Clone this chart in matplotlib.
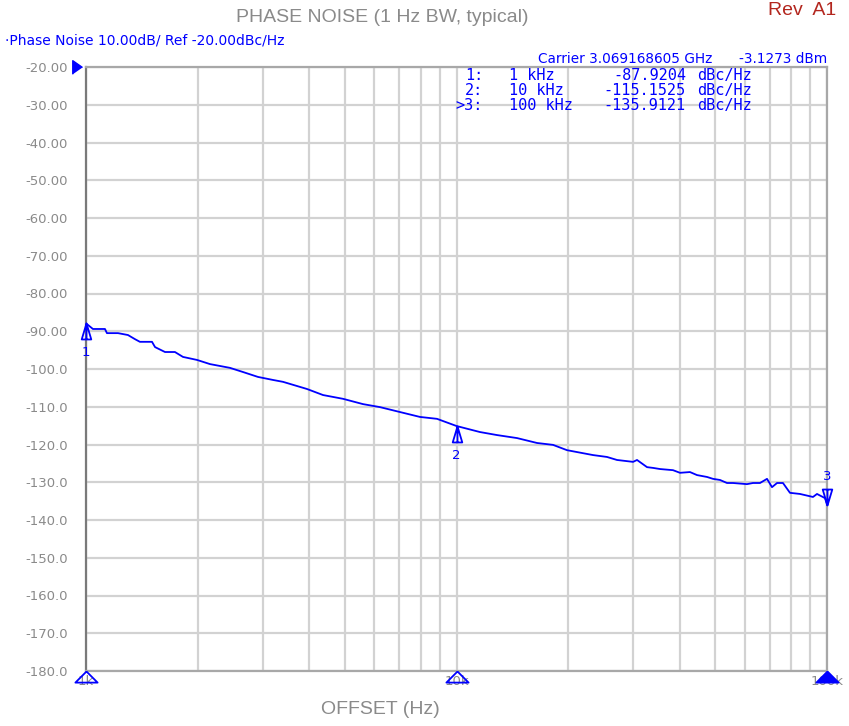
import numpy as np
import matplotlib.pyplot as plt
from matplotlib import transforms

# DATA ****************************************************************************************

# trace: offset (Hz) vs phase noise (dBc/Hz)
freq = [1000, 1044, 1125, 1139, 1220, 1298, 1356, 1398, 1461, 1507,
        1536, 1634, 1738, 1827, 1994, 2161, 2447, 2653, 2912, 3196,
        3402, 3950, 4363, 4940, 5592, 6217, 7038, 7970, 8859, 10000,
        11570, 12860, 14570, 16500, 18220, 19870, 21140, 23360, 25480, 27120,
        29960, 30710, 32680, 33920, 35430, 38400, 40110, 42670, 44580, 47450,
        49240, 51440, 53720, 55760, 60820, 63130, 65940, 68880, 71050, 73310,
        76060, 79440, 84550, 91660, 93970, 98760, 100000]
noise = [-87.9, -89.4, -89.4, -90.5, -90.5, -91.0, -92.1, -92.8, -92.8, -92.8,
         -94.2, -95.5, -95.5, -96.8, -97.6, -98.7, -99.7, -100.8, -102.1, -102.9,
         -103.4, -105.3, -106.9, -107.9, -109.3, -110.1, -111.4, -112.7, -113.2, -115.1,
         -116.7, -117.5, -118.3, -119.6, -120.1, -121.5, -122.0, -122.8, -123.3, -124.1,
         -124.6, -124.1, -126.0, -126.2, -126.5, -126.8, -127.5, -127.3, -128.1, -128.6,
         -129.1, -129.4, -130.2, -130.2, -130.5, -130.2, -130.2, -129.1, -131.3, -130.2,
         -130.2, -132.8, -133.1, -133.9, -133.1, -134.2, -135.9]

# marker table
mk_freq = [1e3, 1e4, 1e5]
mk_num = ['1', '2', '3']
mk_label = ['1:', '2:', '>3:']
mk_text = ['1 kHz', '10 kHz', '100 kHz']
mk_val = [-87.9204, -115.1525, -135.9121]

y_ticks = [-20, -30, -40, -50, -60, -70, -80, -90, -100, -110, -120, -130, -140, -150, -160, -170, -180]
y_labels = ['-20.00', '-30.00', '-40.00', '-50.00', '-60.00', '-70.00', '-80.00', '-90.00',
            '-100.0', '-110.0', '-120.0', '-130.0', '-140.0', '-150.0', '-160.0', '-170.0', '-180.0']
x_ticks = [1e3, 1e4, 1e5]
x_labels = ['1k', '10k', '100k']

# PLOT ****************************************************************************************

W, H = 849, 726
BLUE = '#0000ff'
GRAY = '#8a8a8a'
GRID = '#d2d2d2'

fig = plt.figure(figsize=(W / 100, H / 100), dpi=100)
ax = fig.add_axes([86 / W, 1 - 671 / H, (827 - 86) / W, (671 - 67) / H])

def fx(x):
    return x / W

def fy(y):
    return 1 - y / H

ax.set_xscale('log')
ax.set_xlim(1e3, 1e5)
ax.set_ylim(-180, -20)

ax.set_yticks(y_ticks)
ax.set_yticklabels(y_labels)
ax.set_xticks(x_ticks)
ax.set_xticklabels(x_labels)
ax.xaxis.set_minor_locator(plt.LogLocator(base=10, subs=np.arange(2, 10)))
ax.xaxis.set_minor_formatter(plt.NullFormatter())
ax.tick_params(axis='both', which='both', length=0, colors=GRAY, labelsize=9.5)
ax.tick_params(axis='y', pad=13)
ax.tick_params(axis='x', pad=3)

ax.grid(True, which='both', color=GRID, linewidth=1.6)
ax.set_axisbelow(True)
for side in ['top', 'right', 'bottom']:
    ax.spines[side].set_color('#a8a8a8')
    ax.spines[side].set_linewidth(1.6)
ax.spines['left'].set_color('#7a7a7a')
ax.spines['left'].set_linewidth(1.6)

# trace
ax.plot(freq, noise, color=BLUE, linewidth=1.3, zorder=3)

# markers on the trace
tri_down_body = [(0, 0), (-0.3, -1), (0.3, -1), (0, 0), (0, -1)]
tri_up_body = [(0, 0), (-0.3, 1), (0.3, 1), (0, 0), (0, 1)]
for i in range(3):
    verts = tri_down_body if i < 2 else tri_up_body
    ax.plot(mk_freq[i], mk_val[i], marker=verts, markersize=23, markerfacecolor='none',
            markeredgecolor=BLUE, markeredgewidth=1.3, clip_on=False, zorder=4)
    dy = -29 if i < 2 else 28
    tr = transforms.offset_copy(ax.transData, fig, x=0, y=dy, units='dots')
    ax.text(mk_freq[i], mk_val[i], mk_num[i], transform=tr, color=BLUE, fontsize=9.5,
            ha='center', va='center', clip_on=False, zorder=4)

# markers on the bottom edge
bot = [(0, 0), (-1, -1), (1, -1), (0, 0)]
for i in range(3):
    face = BLUE if i == 2 else 'none'
    ax.plot(mk_freq[i], -180, marker=bot, markersize=16, markerfacecolor=face,
            markeredgecolor=BLUE, markeredgewidth=1.3, clip_on=False, zorder=5)

# reference level arrow
ref = [(0, 0), (-1, 0.7), (-1, -0.7)]
tr = transforms.offset_copy(ax.transData, fig, x=-4, y=0, units='dots')
ax.plot(1e3, -20, marker=ref, markersize=14, color=BLUE, transform=tr, clip_on=False, zorder=5)

# texts
fig.text(fx(382), fy(18), 'PHASE NOISE (1 Hz BW, typical)', color=GRAY, fontsize=14,
         family='Liberation Sans', ha='center', va='center')
fig.text(fx(768), fy(15), 'Rev  A1', color='#b3261e', fontsize=14,
         family='Liberation Sans', ha='left', va='baseline')
fig.text(fx(380), fy(710), 'OFFSET (Hz)', color=GRAY, fontsize=14,
         family='Liberation Sans', ha='center', va='center')

fig.text(fx(5), fy(40), '\u00b7Phase Noise 10.00dB/ Ref -20.00dBc/Hz', color=BLUE, fontsize=10,
         ha='left', va='center')
fig.text(fx(712), fy(59), 'Carrier 3.069168605 GHz', color=BLUE, fontsize=9.8,
         ha='right', va='center')
fig.text(fx(827), fy(59), '-3.1273 dBm', color=BLUE, fontsize=9.8, ha='right', va='center')

row_y = [80, 95, 110]
for i in range(3):
    fig.text(fx(483), fy(row_y[i]), mk_label[i], color=BLUE, fontsize=11,
             family='DejaVu Sans Mono', ha='right', va='baseline')
    fig.text(fx(509), fy(row_y[i]), mk_text[i], color=BLUE, fontsize=11,
             family='DejaVu Sans Mono', ha='left', va='baseline')
    fig.text(fx(686), fy(row_y[i]), '%.4f' % mk_val[i], color=BLUE, fontsize=11,
             family='DejaVu Sans Mono', ha='right', va='baseline')
    fig.text(fx(697), fy(row_y[i]), 'dBc/Hz', color=BLUE, fontsize=11,
             family='DejaVu Sans Mono', ha='left', va='baseline')

fig.savefig('out.png', dpi=100)
